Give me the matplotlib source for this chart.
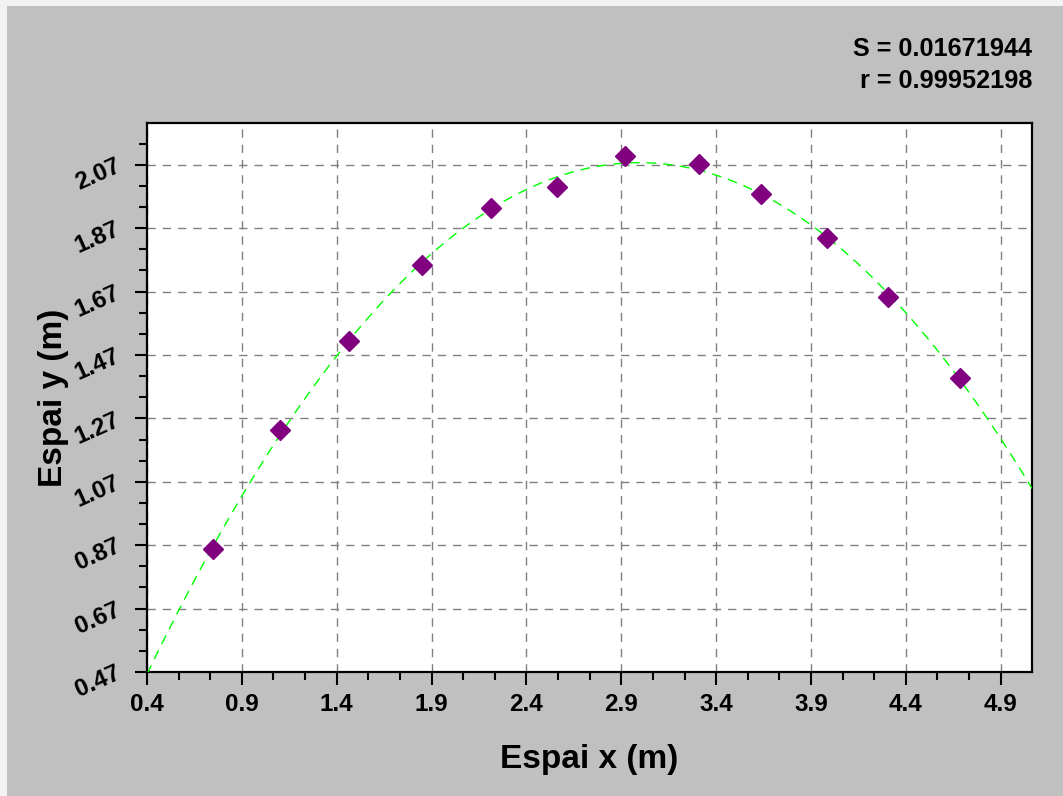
import matplotlib
matplotlib.use('Agg')
import matplotlib.pyplot as plt
import numpy as np
from matplotlib.patches import Rectangle
from matplotlib.ticker import MultipleLocator, AutoMinorLocator, FormatStrFormatter

plt.rcParams['font.family'] = ['Liberation Sans', 'DejaVu Sans']
plt.rcParams['font.weight'] = 'bold'

# measured points
x_data = [0.747, 1.100, 1.463, 1.847, 2.211, 2.563, 2.921, 3.309, 3.638, 3.984, 4.305, 4.684]
y_data = [0.859, 1.233, 1.514, 1.753, 1.933, 1.999, 2.098, 2.072, 1.977, 1.838, 1.652, 1.399]
stats_lines = ['S = 0.01671944', 'r = 0.99952198']

x_min, x_max = 0.4, 5.065
y_min, y_max = 0.47, 2.202

fig = plt.figure(figsize=(10.63, 7.96), dpi=100)
fig.patch.set_facecolor('#f2f2f2')
fig.patches.append(Rectangle((7 / 1063, 0), 1, 1 - 6 / 796, transform=fig.transFigure,
                             facecolor='#c0c0c0', edgecolor='none', zorder=-10))

ax = fig.add_axes([147 / 1063, 124 / 796, 885 / 1063, 549 / 796])
ax.set_facecolor('white')

# quadratic fit through the points
coef = np.polyfit(x_data, y_data, 2)
xf = np.linspace(x_min, x_max, 400)
ax.plot(xf, np.polyval(coef, xf), color='#00ff00', lw=1.0, ls=(0, (7, 5)), zorder=3)
ax.plot(x_data, y_data, 'D', color='#800080', ms=10.5, mec='#800080', zorder=4)

ax.set_xlim(x_min, x_max)
ax.set_ylim(y_min, y_max)

ax.xaxis.set_major_locator(MultipleLocator(0.5, offset=0.4))
ax.yaxis.set_major_locator(MultipleLocator(0.2, offset=0.07))
ax.xaxis.set_minor_locator(AutoMinorLocator(3))
ax.yaxis.set_minor_locator(AutoMinorLocator(3))
ax.xaxis.set_major_formatter(FormatStrFormatter('%.1f'))
ax.yaxis.set_major_formatter(FormatStrFormatter('%.2f'))

ax.grid(which='major', color='#808080', ls=(0, (6, 5)), lw=1.0)
ax.tick_params(which='major', direction='out', length=9, width=1.5, labelsize=17.5)
ax.tick_params(axis='x', which='major', pad=6)
ax.tick_params(axis='y', which='major', pad=11)
ax.tick_params(which='minor', direction='out', length=6, width=1.5)
ax.tick_params(top=False, right=False, which='both')
for lbl in ax.get_yticklabels():
    lbl.set_rotation(24)
    lbl.set_rotation_mode('anchor')
    lbl.set_ha('right')
    lbl.set_va('center')
for sp in ax.spines.values():
    sp.set_linewidth(1.6)
    sp.set_color('black')

ax.set_xlabel('Espai x (m)', fontsize=24, fontweight='bold', labelpad=20)
ax.set_ylabel('Espai y (m)', fontsize=24, fontweight='bold', labelpad=2)

fig.text(1032 / 1063, 1 - 49 / 796, stats_lines[0], ha='right', va='center', fontsize=18.2, fontweight='bold')
fig.text(1032 / 1063, 1 - 81 / 796, stats_lines[1], ha='right', va='center', fontsize=18.2, fontweight='bold')

fig.savefig('out.png', dpi=100, facecolor=fig.get_facecolor())
